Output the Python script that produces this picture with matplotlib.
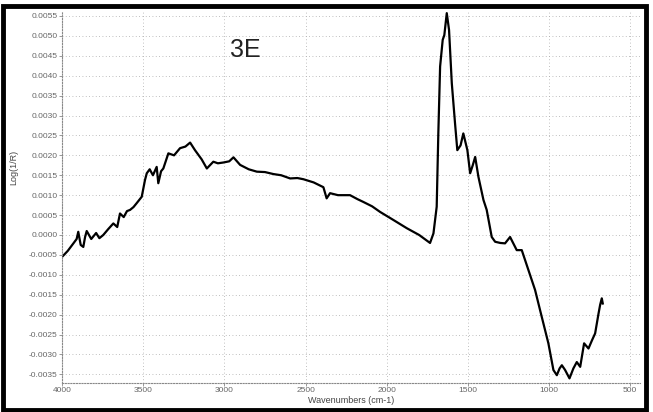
import numpy as np
import matplotlib
matplotlib.use("Agg")
import matplotlib.pyplot as plt
from matplotlib.patches import Rectangle

plt.rcParams["font.family"] = ["Liberation Sans", "DejaVu Sans"]

# spectrum (wavenumber cm-1, Log(1/R))
wavenumber = [
    4000, 3965, 3930, 3910, 3900, 3885, 3869, 3858, 3848, 3820, 3790, 3770, 3746,
    3715, 3684, 3660, 3643, 3620, 3600, 3581, 3560, 3540, 3509, 3489, 3478,
    3460, 3440, 3417, 3407, 3390, 3376, 3345, 3310, 3273, 3240, 3211, 3181,
    3140, 3108, 3068, 3040, 3006, 2970, 2944, 2903, 2850, 2800, 2750, 2698,
    2650, 2595, 2550, 2513, 2450, 2390, 2370, 2349, 2300, 2226, 2180, 2144,
    2090, 2041, 1960, 1876, 1800, 1733, 1712, 1692, 1682, 1671, 1655, 1645,
    1630, 1616, 1599, 1579, 1565, 1545, 1528, 1503, 1486, 1470, 1455, 1435,
    1404, 1384, 1353, 1332, 1300, 1271, 1240, 1199, 1168, 1127, 1086, 1055,
    1004, 973, 952, 935, 921, 901, 874, 850, 829, 808, 784, 757, 736, 716,
    695, 685, 675, 669,
]
log_1_r = [
    -0.00055, -0.00040, -0.00021, -0.00010, 0.00008, -0.00025, -0.00030, -0.00005,
    0.00010, -0.00010, 0.00005, -0.00008, 0.00000, 0.00015, 0.00029, 0.00020,
    0.00054, 0.00045, 0.00060, 0.00063, 0.00070, 0.00080, 0.00096, 0.00138,
    0.00155, 0.00165, 0.00150, 0.00171, 0.00130, 0.00160, 0.00167, 0.00205,
    0.00200, 0.00218, 0.00222, 0.00232, 0.00213, 0.00190, 0.00167, 0.00184,
    0.00180, 0.00182, 0.00185, 0.00195, 0.00176, 0.00165, 0.00159, 0.00158,
    0.00153, 0.00150, 0.00142, 0.00143, 0.00140, 0.00132, 0.00120, 0.00092,
    0.00105, 0.00100, 0.00100, 0.00090, 0.00083, 0.00072, 0.00058, 0.00038,
    0.00017, 0.00000, -0.00020, 0.00004, 0.00071, 0.00255, 0.00423, 0.00490,
    0.00502, 0.00557, 0.00515, 0.00381, 0.00280, 0.00213, 0.00225, 0.00255,
    0.00213, 0.00155, 0.00175, 0.00196, 0.00146, 0.00088, 0.00063, -0.00005,
    -0.00017, -0.00020, -0.00021, -0.00005, -0.00038, -0.00038, -0.00088,
    -0.00138, -0.00189, -0.00272, -0.00339, -0.00352, -0.00335, -0.00327,
    -0.00339, -0.00360, -0.00335, -0.00319, -0.00331, -0.00272, -0.00285,
    -0.00265, -0.00247, -0.00197, -0.00175, -0.00159, -0.00172,
]
x_ticks = [4000, 3500, 3000, 2500, 2000, 1500, 1000, 500]
y_ticks = np.arange(-0.0035, 0.00551, 0.0005)

fig = plt.figure(figsize=(6.53, 4.12), dpi=100)
ax = fig.add_axes([0.095, 0.070, 0.885, 0.901])

ax.plot(wavenumber, log_1_r, color="black", lw=1.6)

ax.set_xlim(4000, 440)
ax.set_ylim(-0.00372, 0.0056)
ax.set_xticks(x_ticks)
ax.set_yticks(y_ticks)
ax.set_yticklabels(["%.4f" % v for v in y_ticks])
ax.tick_params(labelsize=6, labelcolor="#666666", color="#888888",
               length=2, width=0.6, pad=1)
ax.grid(True, linestyle=(0, (1, 3)), color="#aaaaaa", lw=0.6)
for side in ["top", "right"]:
    ax.spines[side].set_visible(False)
for side in ["left", "bottom"]:
    ax.spines[side].set_linestyle((0, (1, 1.5)))
    ax.spines[side].set_color("#888888")
    ax.spines[side].set_linewidth(0.8)

ax.set_xlabel("Wavenumbers (cm-1)", fontsize=6.5, color="#444444", labelpad=1)
ax.set_ylabel("Log(1/R)", fontsize=6.5, color="#444444", labelpad=-2)
ax.yaxis.set_label_coords(-0.075, 0.58)

ax.text(2872, 0.00465, "3E", fontsize=18, color="#222222", ha="center", va="center")

# thick frame around the whole picture
fig.patches.append(Rectangle((0.004, 0.006), 0.986, 0.98, transform=fig.transFigure,
                             fill=False, edgecolor="black", lw=3.5))

fig.savefig("out.png", dpi=100)
